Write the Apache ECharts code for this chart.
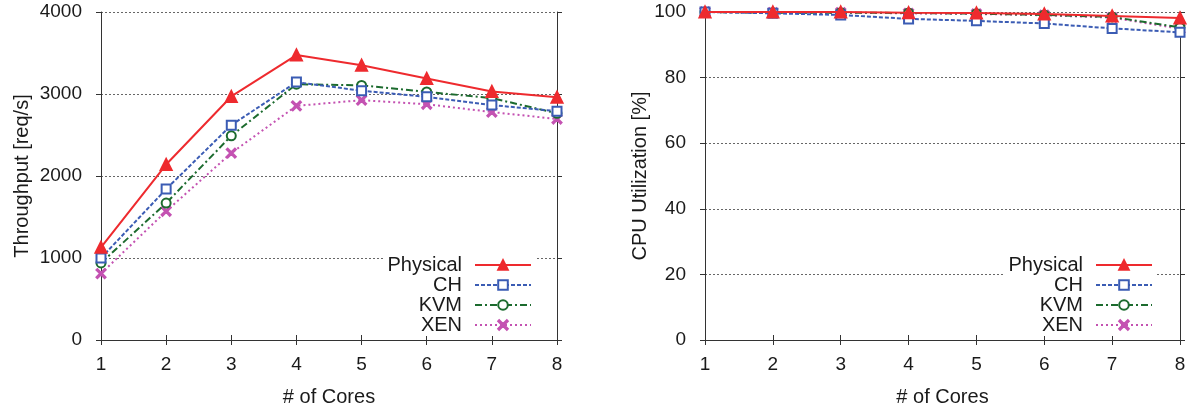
<!DOCTYPE html>
<html><head><meta charset="utf-8">
<script src="https://cdn.jsdelivr.net/npm/echarts@6/dist/echarts.min.js"></script>
<style>html,body{margin:0;padding:0;background:#fff}#c{width:1188px;height:408px}</style>
</head><body><div id="c"></div>
<script>
const cores = [1, 2, 3, 4, 5, 6, 7, 8];
const seriesNames = ['Physical', 'CH', 'KVM', 'XEN'];
// Throughput [req/s]
const tpPhysical = [1130, 2140, 2970, 3475, 3350, 3190, 3030, 2960];
const tpCH       = [1000, 1840, 2620, 3145, 3040, 2965, 2865, 2790];
const tpKVM      = [940, 1670, 2490, 3120, 3105, 3025, 2950, 2765];
const tpXEN      = [810, 1570, 2280, 2855, 2925, 2875, 2780, 2695];
// CPU utilization [%]
const cpuPhysical = [100, 100, 100, 99.8, 99.7, 99.4, 98.8, 98.2];
const cpuCH       = [100, 99.6, 99.1, 97.9, 97.3, 96.5, 95.0, 93.8];
const cpuKVM      = [100, 99.8, 99.8, 99.7, 99.5, 99.1, 98.5, 95.3];
const cpuXEN      = [100, 99.8, 99.8, 99.6, 99.4, 99.0, 98.3, 94.9];
const tpTicks = [0, 1000, 2000, 3000, 4000];
const cpuTicks = [0, 20, 40, 60, 80, 100];

const FONT = "'Liberation Sans', Arial, sans-serif";
const TXT = '#1a1a1a';
const styles = {
  Physical: {color: '#ee2a2e', type: 'solid', symbol: 'triangle', size: 11},
  CH: {color: '#3b5cb4', type: [4, 2], symbol: 'emptyRect', size: 9},
  KVM: {color: '#1c6b2e', type: [7, 3, 2, 3], symbol: 'emptyCircle', size: 9},
  XEN: {color: '#c452b2', type: [2, 3], symbol: 'path://M0,1L1,0L5,4L9,0L10,1L6,5L10,9L9,10L5,6L1,10L0,9L4,5Z', size: 9}
};
const leftData = {Physical: tpPhysical, CH: tpCH, KVM: tpKVM, XEN: tpXEN};
const rightData = {Physical: cpuPhysical, CH: cpuCH, KVM: cpuKVM, XEN: cpuXEN};

function pairs(vals) { return cores.map((c, i) => [c, vals[i]]); }

const grids = [
  {left: 101, right: 631, top: 12, bottom: 68, containLabel: false, outerBoundsMode: 'none'},
  {left: 705, right: 8, top: 12, bottom: 68, containLabel: false, outerBoundsMode: 'none'}
];
const axisLine = {show: true, lineStyle: {color: '#333', width: 1}};
const tick = {show: true, inside: false, length: 5, lineStyle: {color: '#333'}};
function xAxes(gi) {
  return [
    {type: 'value', gridIndex: gi, min: 1, max: 8, interval: 1, position: 'bottom',
     axisLine, axisTick: tick, splitLine: {show: false},
     axisLabel: {fontSize: 19, color: TXT, fontFamily: FONT, margin: 15, formatter: v => String(v)},
     name: '# of Cores', nameLocation: 'middle', nameGap: 47,
     nameTextStyle: {fontSize: 20, color: TXT, fontFamily: FONT}},
    {type: 'value', gridIndex: gi, min: 1, max: 8, interval: 1, position: 'top',
     axisLine, axisTick: tick, splitLine: {show: false}, axisLabel: {show: false}}
  ];
}
function yAxes(gi, ticks, name, gap) {
  const max = ticks[ticks.length - 1], interval = ticks[1] - ticks[0];
  return [
    {type: 'value', gridIndex: gi, min: ticks[0], max, interval, position: 'left',
     axisLine, axisTick: tick,
     splitLine: {show: true, lineStyle: {color: '#666', type: [2, 2], width: 1}},
     axisLabel: {fontSize: 19, color: TXT, fontFamily: FONT, margin: 19, formatter: v => String(v)},
     name, nameLocation: 'middle', nameGap: gap,
     nameTextStyle: {fontSize: 20, color: TXT, fontFamily: FONT}},
    {type: 'value', gridIndex: gi, min: ticks[0], max, interval, position: 'right',
     axisLine, axisTick: tick, splitLine: {show: false}, axisLabel: {show: false}}
  ];
}

const series = [];
[[leftData, 0], [rightData, 1]].forEach(([d, gi]) => {
  seriesNames.forEach(n => {
    const s = styles[n];
    series.push({
      type: 'line', name: n, xAxisIndex: gi * 2, yAxisIndex: gi * 2,
      data: pairs(d[n]), symbol: s.symbol, symbolSize: s.size,
      showAllSymbol: true, animation: false,
      lineStyle: {color: s.color, width: 2, type: s.type},
      itemStyle: {color: s.color, borderColor: s.color, borderWidth: 2},
      z: 10 - seriesNames.indexOf(n)
    });
  });
});

const rowTops = [254, 274, 294, 314];
const legends = [];
[[1188 - 532 - 4, 0], [1188 - 1153 - 4, 1]].forEach(([r]) => {
  seriesNames.forEach((n, i) => {
    legends.push({
      data: [n], right: r, top: rowTops[i], align: 'right', orient: 'vertical',
      itemWidth: 56, itemHeight: 12, padding: [1, 4, 1, 4],
      backgroundColor: '#fff',
      selectedMode: false,
      textStyle: {fontSize: 20, color: TXT, fontFamily: FONT, padding: [0, 8, 0, 0]}
    });
  });
});

const chart = echarts.init(document.getElementById('c'), null, {renderer: 'canvas'});
chart.setOption({
  animation: false,
  backgroundColor: '#fff',
  grid: grids,
  xAxis: [...xAxes(0), ...xAxes(1)],
  yAxis: [...yAxes(0, tpTicks, 'Throughput [req/s]', 69), ...yAxes(1, cpuTicks, 'CPU Utilization [%]', 55)],
  legend: legends,
  series
});
</script></body></html>
